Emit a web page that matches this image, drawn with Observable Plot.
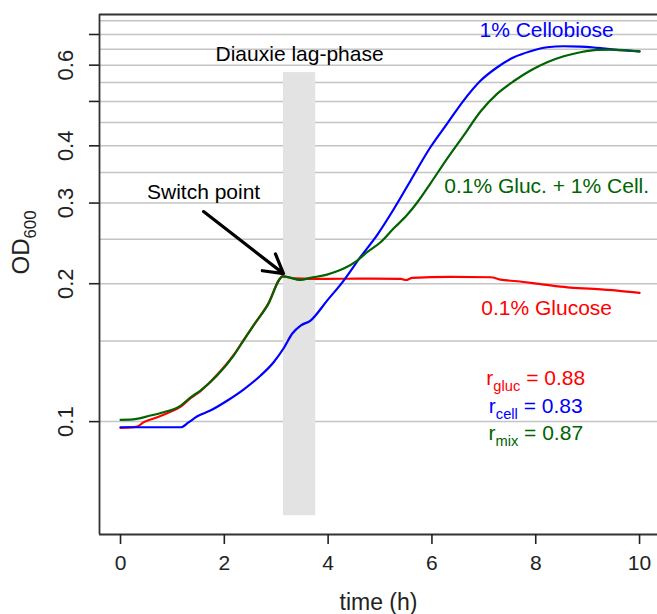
<!DOCTYPE html>
<html><head><meta charset="utf-8">
<script src="https://cdn.jsdelivr.net/npm/d3@7"></script>
<script src="https://cdn.jsdelivr.net/npm/@observablehq/plot@0.6"></script>
<style>
html,body{margin:0;padding:0;background:#fff;}
#chart svg{display:block;}
</style></head><body><div id="chart"></div>
<script>
// ---- data ----
const tGluc = [0, 0.32, 0.44, 0.71, 0.90, 1.16, 1.35, 1.54, 1.86, 2.18, 2.37, 2.56, 2.83, 3.13, 3.33, 3.98, 4.6, 5.40, 5.50, 5.62, 6.36, 7.13, 7.32, 7.64, 8.16, 8.61, 9.12, 9.57, 10];
const odGluc = [0.0969, 0.0975, 0.0996, 0.1022, 0.1043, 0.1078, 0.1125, 0.1166, 0.1265, 0.1398, 0.1506, 0.1620, 0.1796, 0.2076, 0.2055, 0.2049, 0.2052, 0.2049, 0.2038, 0.2060, 0.2070, 0.2066, 0.2042, 0.2025, 0.1991, 0.1964, 0.1949, 0.1932, 0.1910];

const tCell = [0, 0.6, 1.16, 1.31, 1.48, 1.73, 2.06, 2.37, 2.70, 2.95, 3.14, 3.31, 3.47, 3.66, 3.98, 4.30, 4.62, 4.95, 5.26, 5.59, 5.97, 6.29, 6.61, 6.94, 7.26, 7.58, 7.90, 8.22, 8.54, 8.86, 9.18, 9.50, 10];
const odCell = [0.0972, 0.0972, 0.0972, 0.0996, 0.1027, 0.1057, 0.1112, 0.1175, 0.1261, 0.1348, 0.1444, 0.1557, 0.1620, 0.1662, 0.1837, 0.2032, 0.2285, 0.2560, 0.2904, 0.3360, 0.3971, 0.4467, 0.5022, 0.5554, 0.5938, 0.6244, 0.6435, 0.6565, 0.6599, 0.6589, 0.6546, 0.6490, 0.6435];

const tMix = [0, 0.19, 0.58, 0.83, 1.16, 1.35, 1.54, 1.86, 2.18, 2.37, 2.56, 2.83, 3.13, 3.47, 3.66, 3.98, 4.30, 4.56, 4.75, 5.01, 5.26, 5.52, 5.72, 5.97, 6.29, 6.61, 6.94, 7.26, 7.58, 7.90, 8.22, 8.54, 8.86, 9.18, 9.50, 10];
const odMix = [0.1009, 0.1010, 0.1031, 0.1048, 0.1084, 0.1130, 0.1169, 0.1261, 0.1394, 0.1503, 0.1621, 0.1792, 0.2076, 0.2039, 0.2060, 0.2094, 0.2158, 0.2247, 0.2343, 0.2463, 0.2639, 0.2824, 0.3012, 0.3309, 0.3746, 0.4211, 0.4760, 0.5200, 0.5540, 0.5840, 0.6089, 0.6275, 0.6402, 0.6480, 0.6490, 0.6425];

const xTicks = [0, 2, 4, 6, 8, 10];
const yTicks = [0.1, 0.2, 0.3, 0.4, 0.5, 0.6, 0.7];
const yLabelTicks = [0.1, 0.2, 0.3, 0.4, 0.6];
const gridValues = [0.1, 0.15, 0.2, 0.25, 0.3, 0.35, 0.4, 0.45, 0.5, 0.55, 0.6, 0.65, 0.7, 0.75];

const lagStart = 3.14, lagEnd = 3.76, lagLow = 0.0623, lagHigh = 0.578;

const labelTexts = ["Diauxie lag-phase", "Switch point", "1% Cellobiose", "0.1% Gluc. + 1% Cell.", "0.1% Glucose", "r_{gluc} = 0.88", "r_{cell} = 0.83", "r_{mix} = 0.87"];
const labelT = [3.45, 1.60, 8.21, 8.21, 8.21, 8.0, 8.0, 8.0];
const labelOD = [0.633, 0.3162, 0.7158, 0.326, 0.1769, 0.1245, 0.108, 0.0944];
const labelColors = ["#000000", "#000000", "#0000ff", "#006400", "#ff0000", "#ff0000", "#0000ff", "#006400"];

const arrowFrom = [1.60, 0.2874];
const arrowTo = [3.14, 0.2104];

// ---- build ----
const xDomain = [-0.405, 10.346];
const yDomain = [0.0567, 0.774];
const toRows = (ts, ods) => ts.map((t, i) => ({t, od: ods[i]}));
const labels = labelTexts.map((s, i) => ({s, t: labelT[i], od: labelOD[i], c: labelColors[i]}));
const FONT = "'Liberation Sans', Arial, Helvetica, sans-serif";

const plot = Plot.plot({
  width: 657, height: 614,
  marginLeft: 99, marginRight: 0, marginTop: 14, marginBottom: 80,
  style: {fontFamily: FONT, background: "#fff", color: "#222", overflow: "visible"},
  x: {domain: xDomain},
  y: {type: "log", domain: yDomain},
  color: {type: "identity"},
  marks: [
    Plot.ruleY(gridValues, {stroke: "#c4c4c4", strokeWidth: 1.5}),
    Plot.rect([{a: lagStart, b: lagEnd, lo: lagLow, hi: lagHigh}], {x1: "a", x2: "b", y1: "lo", y2: "hi", fill: "#e3e3e3"}),
    Plot.line(toRows(tGluc, odGluc), {x: "t", y: "od", stroke: "#ff0000", strokeWidth: 2.2, curve: "monotone-x"}),
    Plot.line(toRows(tCell, odCell), {x: "t", y: "od", stroke: "#0000ff", strokeWidth: 2.2, curve: "monotone-x"}),
    Plot.line(toRows(tMix, odMix), {x: "t", y: "od", stroke: "#006400", strokeWidth: 2.2, curve: "monotone-x"}),
    Plot.ruleY([yDomain[0], yDomain[1]], {stroke: "#333", strokeWidth: 1.8}),
    Plot.ruleX([xDomain[0]], {stroke: "#333", strokeWidth: 1.8}),
    Plot.axisX({ticks: xTicks, tickSize: 10, tickPadding: 11, fontSize: 21, label: null, strokeWidth: 1.6}),
    Plot.axisY({ticks: yTicks, tickSize: 10, text: null, label: null, strokeWidth: 1.6}),
    Plot.axisY({ticks: yLabelTicks, tickFormat: d => String(d), tickSize: 0, tickPadding: 34, fontSize: 22, rotate: -90, textAnchor: "middle", label: null}),
    Plot.arrow([{x1: arrowFrom[0], y1: arrowFrom[1], x2: arrowTo[0], y2: arrowTo[1]}], {x1: "x1", y1: "y1", x2: "x2", y2: "y2", stroke: "#000", strokeWidth: 3.2, headLength: 10}),
    Plot.text(labels, {x: "t", y: "od", text: "s", fill: "c", fontSize: 21, textAnchor: "middle", lineAnchor: "middle"}),
    Plot.text(["time (h)"], {text: d => d, frameAnchor: "bottom", dy: 75, fontSize: 23}),
    Plot.text(["OD_{600}"], {text: d => d, frameAnchor: "left", dx: -78, rotate: -90, fontSize: 24})
  ]
});

document.getElementById("chart").appendChild(plot);

// subscripts: "a_{b}c" -> a, lowered small b, c
const NS = "http://www.w3.org/2000/svg";
plot.querySelectorAll("text").forEach(t => {
  const s = t.textContent;
  const m = s.match(/^(.*?)_\{(.*?)\}(.*)$/);
  if (!m) return;
  const fs = parseFloat(getComputedStyle(t).fontSize) || 20;
  while (t.firstChild) t.removeChild(t.firstChild);
  const a = document.createElementNS(NS, "tspan"); a.textContent = m[1];
  const b = document.createElementNS(NS, "tspan"); b.textContent = m[2];
  b.setAttribute("font-size", (fs * 0.7).toFixed(1));
  b.setAttribute("dy", (fs * 0.28).toFixed(1));
  const c = document.createElementNS(NS, "tspan"); c.textContent = m[3];
  c.setAttribute("dy", (-fs * 0.28).toFixed(1));
  t.appendChild(a); t.appendChild(b); if (m[3]) t.appendChild(c);
});
</script>
</body></html>
